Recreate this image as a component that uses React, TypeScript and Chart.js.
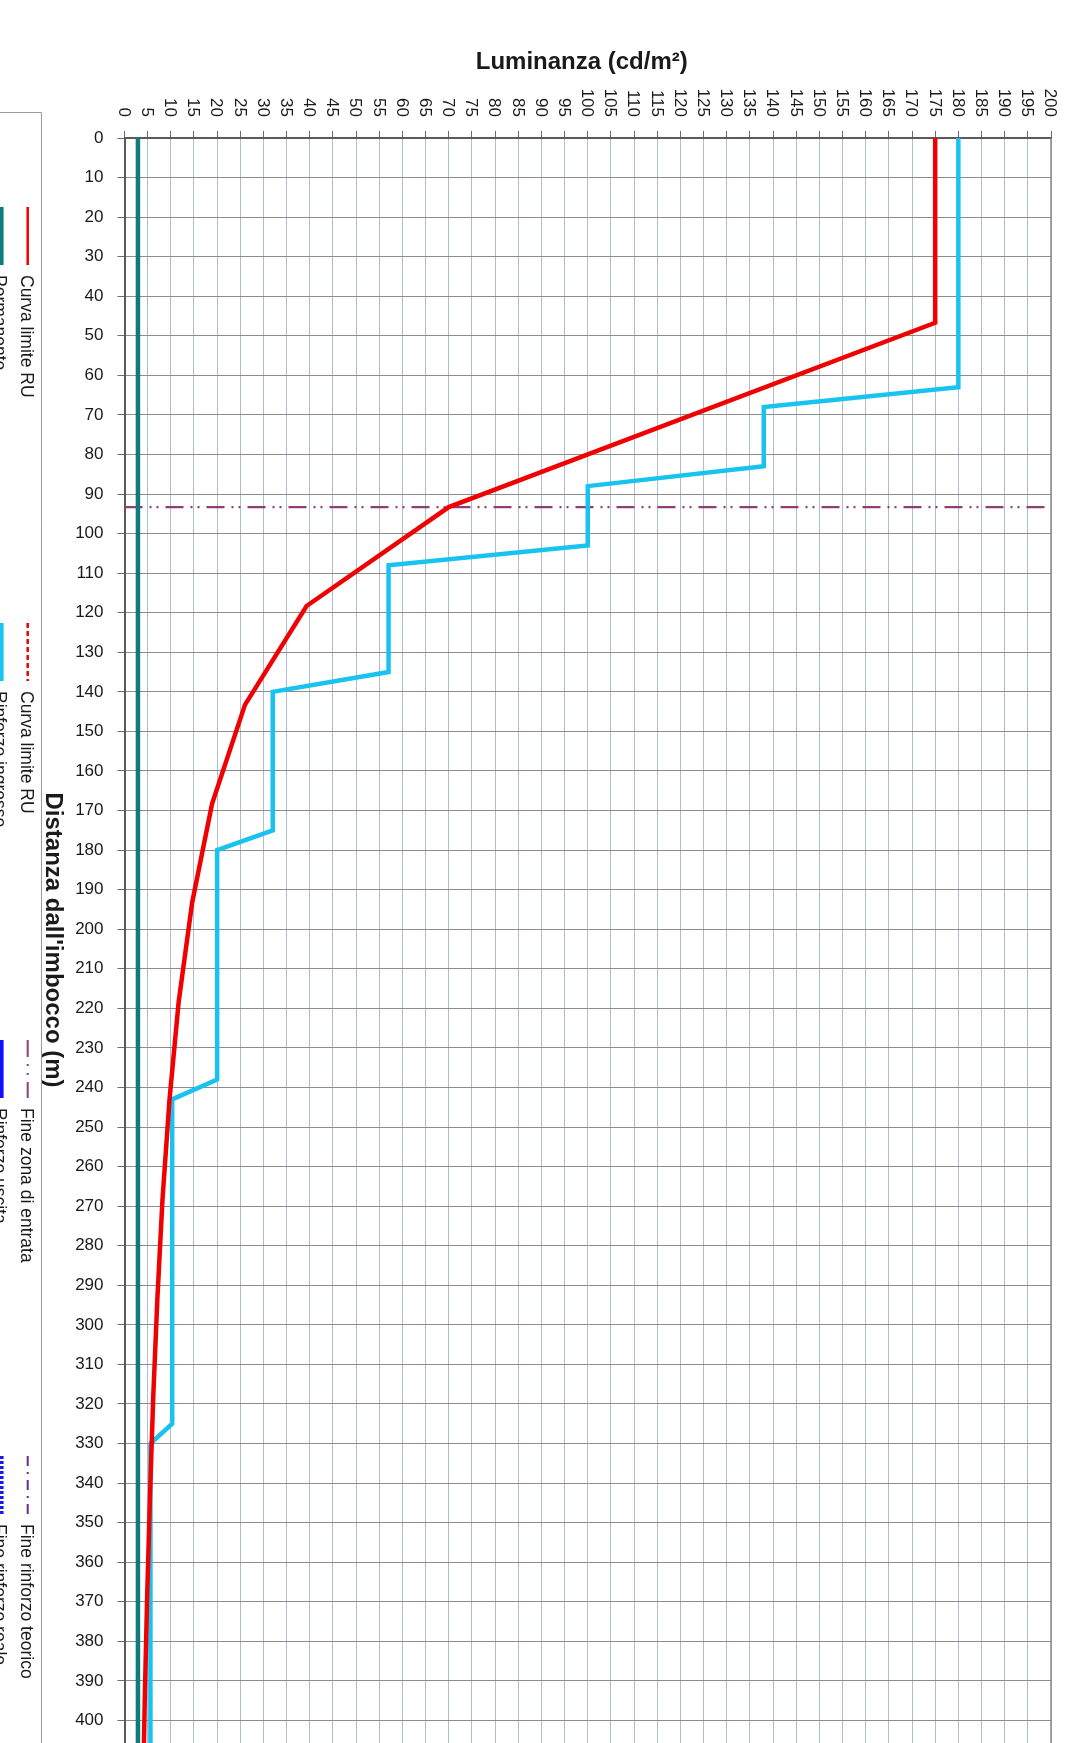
import React, { useEffect, useRef } from "react";
import { Chart, registerables } from "chart.js";

Chart.register(...registerables);

const FONT = "'Liberation Sans', Arial, Helvetica, sans-serif";

// ---- Data (distance in m, luminance in cd/m²) ----
const redDistance = [0, 46.7, 93.3, 118.3, 143.3, 168.3, 193.3, 218.3, 243.3, 268.3, 293.3, 318.3, 343.3, 368.3, 393.3, 418.3];
const redLuminance = [175, 175, 70, 39.3, 26.0, 18.9, 14.6, 11.7, 9.7, 8.2, 7.1, 6.2, 5.5, 4.9, 4.4, 4.0];

const cyanDistance = [0, 63, 68, 83, 88, 103, 108, 135, 140, 175, 180, 238, 243, 325, 330, 410];
const cyanLuminance = [180, 180, 138, 138, 100, 100, 57, 57, 32, 32, 20, 20, 10.3, 10.3, 5.6, 5.6];

const permanentDistance = [0, 410];
const permanentLuminance = [2.9, 2.9];

const entryEndDistance = [93.3, 93.3];
const entryEndLuminance = [0, 200];

const luminanceMin = 0;
const luminanceMax = 200;
const luminanceStep = 5;
const distanceMin = 0;
const distanceMax = 405.7;
const distanceStep = 10;

const xTitle = "Luminanza (cd/m²)";
const yTitle = "Distanza dall'imbocco (m)";

const legendLabels = [
  "Curva limite RU",
  "Permanente",
  "Curva limite RU",
  "Rinforzo ingresso",
  "Fine zona di entrata",
  "Rinforzo uscita",
  "Fine rinforzo teorico",
  "Fine rinforzo reale",
];

const legendStyles = [
  { color: "#f00000", dash: [] as number[], width: 2.5 },
  { color: "#0e7c7b", dash: [] as number[], width: 5 },
  { color: "#f00000", dash: [5, 3], width: 2.5 },
  { color: "#18c4ef", dash: [] as number[], width: 5 },
  { color: "#8e3f76", dash: [17, 7, 2, 7, 2, 7], width: 2 },
  { color: "#1010ff", dash: [] as number[], width: 5 },
  { color: "#6a2a90", dash: [10, 6, 2, 6], width: 2 },
  { color: "#1a1aee", dash: [3, 2], width: 5 },
];

const toPoints = (xs: number[], ys: number[]) => xs.map((x, i) => ({ x, y: ys[i] }));

const overlayPlugin = {
  id: "overlay",
  afterDraw(chart: any) {
    const ctx: CanvasRenderingContext2D = chart.ctx;
    const { left, right, top, bottom } = chart.chartArea;
    const xs = chart.scales.x;
    const ys = chart.scales.y;
    ctx.save();

    // right border
    ctx.strokeStyle = "#8a8a8a";
    ctx.lineWidth = 1.5;
    ctx.beginPath();
    ctx.moveTo(right, top);
    ctx.lineTo(right, bottom);
    ctx.stroke();

    // x tick labels (rotated, reading downward)
    ctx.fillStyle = "#1a1a1a";
    ctx.font = `17px ${FONT}`;
    xs.ticks.forEach((t: any) => {
      const px = xs.getPixelForValue(t.value);
      ctx.save();
      ctx.translate(px, top - 21);
      ctx.rotate(Math.PI / 2);
      ctx.textAlign = "right";
      ctx.textBaseline = "middle";
      ctx.fillText(String(Math.round(t.value)), 0, 1);
      ctx.restore();
    });

    // y tick labels
    ctx.textAlign = "right";
    ctx.textBaseline = "middle";
    ys.ticks.forEach((t: any) => {
      const py = ys.getPixelForValue(t.value);
      ctx.fillText(String(Math.round(t.value)), left - 21, py);
    });

    // x title
    ctx.font = `bold 24px ${FONT}`;
    ctx.textAlign = "center";
    ctx.textBaseline = "alphabetic";
    ctx.fillText(xTitle, (left + right) / 2 - 6, 69);

    // y title rotated
    ctx.save();
    ctx.translate(46, 940);
    ctx.rotate(Math.PI / 2);
    ctx.textAlign = "center";
    ctx.textBaseline = "alphabetic";
    ctx.fillText(yTitle, 0, 0);
    ctx.restore();

    // legend frame
    ctx.strokeStyle = "#9a9a9a";
    ctx.lineWidth = 1;
    ctx.beginPath();
    ctx.moveTo(0, 112.5);
    ctx.lineTo(41.5, 112.5);
    ctx.lineTo(41.5, chart.height);
    ctx.stroke();

    // legend items (two columns, rotated)
    const rowStarts = [207, 623, 1040, 1456];
    const colLineX = [27.7, 1.1];
    const colBaseX = [20.7, -5.9];
    legendLabels.forEach((label, i) => {
      const row = Math.floor(i / 2);
      const col = i % 2;
      const st = legendStyles[i];
      const y0 = rowStarts[row];
      ctx.save();
      ctx.strokeStyle = st.color;
      ctx.lineWidth = st.width;
      ctx.setLineDash(st.dash);
      ctx.beginPath();
      ctx.moveTo(colLineX[col], y0);
      ctx.lineTo(colLineX[col], y0 + 58);
      ctx.stroke();
      ctx.restore();
      ctx.save();
      ctx.fillStyle = "#1a1a1a";
      ctx.font = `17.5px ${FONT}`;
      ctx.translate(colBaseX[col], y0 + 68);
      ctx.rotate(Math.PI / 2);
      ctx.textAlign = "left";
      ctx.textBaseline = "alphabetic";
      ctx.fillText(label, 0, 0);
      ctx.restore();
    });

    ctx.restore();
  },
};

export default function App() {
  const canvasRef = useRef<HTMLCanvasElement | null>(null);

  useEffect(() => {
    if (!canvasRef.current) return;
    const chart = new Chart(canvasRef.current, {
      type: "line",
      data: {
        datasets: [
          {
            label: legendLabels[0],
            data: toPoints(redLuminance, redDistance),
            borderColor: "#f00000",
            borderWidth: 4.5,
            pointRadius: 0,
            fill: false,
            tension: 0,
          },
          {
            label: legendLabels[3],
            data: toPoints(cyanLuminance, cyanDistance),
            borderColor: "#18c4ef",
            borderWidth: 4.5,
            pointRadius: 0,
            fill: false,
            tension: 0,
          },
          {
            label: legendLabels[1],
            data: toPoints(permanentLuminance, permanentDistance),
            borderColor: "#0e7c7b",
            borderWidth: 4.5,
            pointRadius: 0,
            fill: false,
            tension: 0,
          },
          {
            label: legendLabels[4],
            data: toPoints(entryEndLuminance, entryEndDistance),
            borderColor: "#8e3f76",
            borderWidth: 2.2,
            borderDash: [18, 7, 2, 5, 2, 7],
            pointRadius: 0,
            fill: false,
            tension: 0,
          },
        ],
      },
      options: {
        animation: false,
        responsive: false,
        devicePixelRatio: 1,
        parsing: true,
        layout: { padding: { left: 0, right: 40, top: 0, bottom: 0 } },
        plugins: {
          legend: { display: false },
          title: { display: false },
          tooltip: { enabled: false },
        },
        scales: {
          x: {
            type: "linear",
            position: "top",
            min: luminanceMin,
            max: luminanceMax,
            ticks: { stepSize: luminanceStep, display: false, includeBounds: false },
            grid: {
              color: "#b2bbd2",
              lineWidth: 1,
              tickColor: "#6b6b6b",
              tickLength: 7,
              drawTicks: true,
            },
            border: { display: true, color: "#5a5a5a", width: 2 },
            afterFit: (scale: any) => {
              scale.height = 138;
            },
          },
          y: {
            type: "linear",
            reverse: true,
            min: distanceMin,
            max: distanceMax,
            ticks: { stepSize: distanceStep, display: false, includeBounds: false },
            grid: {
              color: "#8c8c8c",
              lineWidth: 1,
              tickColor: "#6b6b6b",
              tickLength: 7,
              drawTicks: true,
            },
            border: { display: true, color: "#5a5a5a", width: 2 },
            afterFit: (scale: any) => {
              scale.width = 124.5;
            },
          },
        },
      },
      plugins: [overlayPlugin],
    });
    return () => chart.destroy();
  }, []);

  return (
    <div style={{ position: "absolute", left: 0, top: 0, width: 1091, height: 1743, background: "#fff" }}>
      <canvas ref={canvasRef} width={1091} height={1743} style={{ display: "block" }} />
    </div>
  );
}
